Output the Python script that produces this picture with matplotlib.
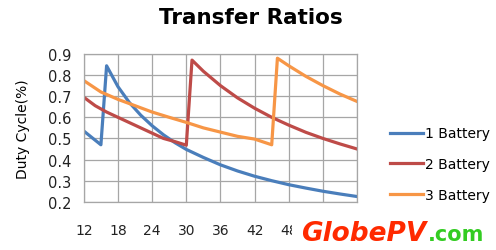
import matplotlib
matplotlib.use("Agg")
import matplotlib.pyplot as plt
from matplotlib.patches import Rectangle

# input voltage (V) and duty cycle readings for each battery setting
x_1bat = [12, 15, 16, 18, 20, 22, 24, 26, 28, 30, 33, 36, 39, 42, 45, 48, 51, 54, 57, 60]
y_1bat = [0.535, 0.47, 0.844, 0.745, 0.67, 0.61, 0.56, 0.517, 0.48, 0.448, 0.41,
          0.375, 0.346, 0.321, 0.30, 0.281, 0.265, 0.25, 0.237, 0.225]

x_2bat = [12, 14, 16, 18, 20, 22, 24, 26, 28, 30, 31, 33, 36, 39, 42, 45, 48, 51, 54, 57, 60]
y_2bat = [0.695, 0.655, 0.625, 0.60, 0.575, 0.55, 0.525, 0.50, 0.485, 0.468, 0.871,
          0.818, 0.75, 0.692, 0.643, 0.60, 0.563, 0.529, 0.50, 0.474, 0.45]

x_3bat = [12, 15, 18, 21, 24, 27, 30, 33, 36, 39, 42, 45, 46, 48, 51, 54, 57, 60]
y_3bat = [0.774, 0.72, 0.685, 0.655, 0.625, 0.60, 0.576, 0.55, 0.53, 0.51, 0.497,
          0.47, 0.88, 0.844, 0.794, 0.75, 0.71, 0.675]

series_names = ["1 Battery", "2 Battery", "3 Battery"]
series_colors = ["#4a7ebb", "#be4b48", "#f79646"]
x_ticks = [12, 18, 24, 30, 36, 42, 48, 54, 60]
y_ticks = [0.2, 0.3, 0.4, 0.5, 0.6, 0.7, 0.8, 0.9]

fig = plt.figure(figsize=(4.96, 2.51), dpi=100)
ax = fig.add_axes([0.169, 0.192, 0.551, 0.589])

for xs, ys, name, col in zip([x_1bat, x_2bat, x_3bat], [y_1bat, y_2bat, y_3bat],
                             series_names, series_colors):
    ax.plot(xs, ys, color=col, lw=2.3, label=name, solid_joinstyle="round")

ax.set_xlim(12, 60)
ax.set_ylim(0.2, 0.9)
ax.set_xticks(x_ticks)
ax.set_yticks(y_ticks)
ax.set_yticklabels([f"{v:.1f}" for v in y_ticks])
ax.grid(True, color="#a6a6a6", lw=0.9)
ax.set_axisbelow(True)
for s in ax.spines.values():
    s.set_color("#a6a6a6")
    s.set_linewidth(0.9)
ax.tick_params(axis="both", length=0, colors="#222222")
ax.tick_params(axis="x", pad=15, labelsize=10)
ax.tick_params(axis="y", pad=9, labelsize=10.5)

ax.set_ylabel("Duty Cycle(%)", fontsize=10, labelpad=13)
fig.text(0.506, 0.93, "Transfer Ratios", ha="center", va="center",
         fontsize=15.5, fontweight="bold")

leg = ax.legend(loc="center left", bbox_to_anchor=(1.075, 0.255), frameon=False,
                fontsize=10, handlelength=2.4, handletextpad=0.1, labelspacing=1.2)

# watermark logo over the right part of the x tick labels (hides part of "48")
fig.patches.append(Rectangle((0.588, 0.02), 0.41, 0.1, transform=fig.transFigure,
                             facecolor="white", edgecolor="none", zorder=5))
fig.text(0.607, 0.068, "GlobePV", color="#ff2a00", fontsize=19, fontweight="heavy",
         style="italic", ha="left", va="center", zorder=6)
fig.text(0.862, 0.062, ".com", color="#33cc22", fontsize=15, fontweight="bold",
         ha="left", va="center", zorder=6)

fig.savefig("out.png", dpi=100)
